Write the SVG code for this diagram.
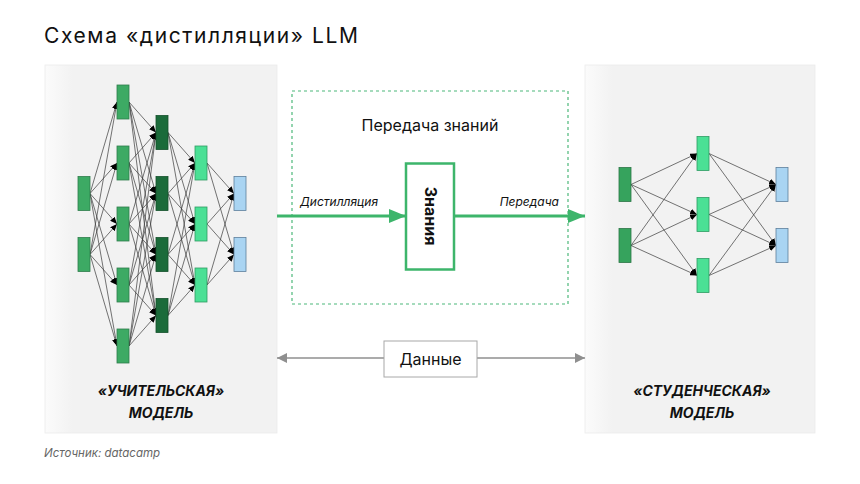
<svg xmlns="http://www.w3.org/2000/svg" width="860" height="484" viewBox="0 0 860 484">
<style>
text{font-family:Inter,"Noto Sans","Liberation Sans",sans-serif;fill:#111}
.n1{fill:#3daa64;stroke:#2f7d4b;stroke-width:0.8}
.n1s{fill:#36a35d;stroke:#2c7546;stroke-width:0.8}
.n2{fill:#1b6b3a;stroke:#14512c;stroke-width:0.8}
.n3{fill:#4be095;stroke:#2f9c63;stroke-width:0.8}
.n4{fill:#a9d4f2;stroke:#5e7f9c;stroke-width:0.8}
.c line{stroke:#3a3a3a;stroke-width:0.7;marker-end:url(#ah)}
.lbl{font-weight:700;font-style:italic;font-size:14px;text-anchor:middle}
</style>
<defs>
<marker id="ah" markerUnits="userSpaceOnUse" markerWidth="8" markerHeight="6" refX="7" refY="3" orient="auto"><path d="M0,0 L7,3 L0,6 z" fill="#000"/></marker>
<marker id="ga" markerUnits="userSpaceOnUse" markerWidth="18" markerHeight="14" refX="17" refY="7" orient="auto"><path d="M0,0 L17,7 L0,14 z" fill="#3db56b"/></marker>
<marker id="gr" markerUnits="userSpaceOnUse" markerWidth="11" markerHeight="10" refX="10" refY="5" orient="auto"><path d="M0,0 L10,5 L0,10 z" fill="#8f8f8f"/></marker>
<linearGradient id="pg" x1="0" y1="0" x2="1" y2="0"><stop offset="0" stop-color="#fbfbfb"/><stop offset="0.12" stop-color="#f2f2f2"/><stop offset="1" stop-color="#f2f2f2"/></linearGradient>
</defs>
<rect width="860" height="484" fill="#fff"/>
<text x="44" y="43" font-size="21" textLength="314">Схема «дистилляции» LLM</text>

<g id="teacher-panel"><rect x="45" y="65" width="232" height="368" fill="url(#pg)" stroke="#ebebeb" stroke-width="0.8"/></g>
<g id="student-panel"><rect x="585" y="65" width="230" height="368" fill="url(#pg)" stroke="#ebebeb" stroke-width="0.8"/></g>

<g id="transfer-box"><rect x="292" y="91" width="276" height="213" fill="#fff" stroke="#4db87a" stroke-width="1.2" stroke-dasharray="3 3"/>
<text x="430" y="131" font-size="16" text-anchor="middle">Передача знаний</text></g>

<g class="c" id="teacher-connectors">
<line x1="90" y1="193.5" x2="117" y2="102"/><line x1="90" y1="193.5" x2="117" y2="163"/><line x1="90" y1="193.5" x2="117" y2="224"/><line x1="90" y1="193.5" x2="117" y2="285"/><line x1="90" y1="193.5" x2="117" y2="346"/>
<line x1="90" y1="254.5" x2="117" y2="102"/><line x1="90" y1="254.5" x2="117" y2="163"/><line x1="90" y1="254.5" x2="117" y2="224"/><line x1="90" y1="254.5" x2="117" y2="285"/><line x1="90" y1="254.5" x2="117" y2="346"/>
<line x1="129" y1="102" x2="156" y2="132.5"/><line x1="129" y1="102" x2="156" y2="193.5"/><line x1="129" y1="102" x2="156" y2="254.5"/><line x1="129" y1="102" x2="156" y2="315.5"/>
<line x1="129" y1="163" x2="156" y2="132.5"/><line x1="129" y1="163" x2="156" y2="193.5"/><line x1="129" y1="163" x2="156" y2="254.5"/><line x1="129" y1="163" x2="156" y2="315.5"/>
<line x1="129" y1="224" x2="156" y2="132.5"/><line x1="129" y1="224" x2="156" y2="193.5"/><line x1="129" y1="224" x2="156" y2="254.5"/><line x1="129" y1="224" x2="156" y2="315.5"/>
<line x1="129" y1="285" x2="156" y2="132.5"/><line x1="129" y1="285" x2="156" y2="193.5"/><line x1="129" y1="285" x2="156" y2="254.5"/><line x1="129" y1="285" x2="156" y2="315.5"/>
<line x1="129" y1="346" x2="156" y2="132.5"/><line x1="129" y1="346" x2="156" y2="193.5"/><line x1="129" y1="346" x2="156" y2="254.5"/><line x1="129" y1="346" x2="156" y2="315.5"/>
<line x1="168" y1="132.5" x2="195" y2="163"/><line x1="168" y1="132.5" x2="195" y2="224"/><line x1="168" y1="132.5" x2="195" y2="285"/>
<line x1="168" y1="193.5" x2="195" y2="163"/><line x1="168" y1="193.5" x2="195" y2="224"/><line x1="168" y1="193.5" x2="195" y2="285"/>
<line x1="168" y1="254.5" x2="195" y2="163"/><line x1="168" y1="254.5" x2="195" y2="224"/><line x1="168" y1="254.5" x2="195" y2="285"/>
<line x1="168" y1="315.5" x2="195" y2="163"/><line x1="168" y1="315.5" x2="195" y2="224"/><line x1="168" y1="315.5" x2="195" y2="285"/>
<line x1="207" y1="163" x2="234" y2="193.5"/><line x1="207" y1="163" x2="234" y2="254.5"/>
<line x1="207" y1="224" x2="234" y2="193.5"/><line x1="207" y1="224" x2="234" y2="254.5"/>
<line x1="207" y1="285" x2="234" y2="193.5"/><line x1="207" y1="285" x2="234" y2="254.5"/>
</g>

<g class="c" id="student-connectors">
<line x1="631" y1="184.5" x2="697" y2="153.5"/><line x1="631" y1="184.5" x2="697" y2="214.5"/><line x1="631" y1="184.5" x2="697" y2="275.5"/>
<line x1="631" y1="245.5" x2="697" y2="153.5"/><line x1="631" y1="245.5" x2="697" y2="214.5"/><line x1="631" y1="245.5" x2="697" y2="275.5"/>
<line x1="709" y1="153.5" x2="776" y2="184.5"/><line x1="709" y1="153.5" x2="776" y2="245.5"/>
<line x1="709" y1="214.5" x2="776" y2="184.5"/><line x1="709" y1="214.5" x2="776" y2="245.5"/>
<line x1="709" y1="275.5" x2="776" y2="184.5"/><line x1="709" y1="275.5" x2="776" y2="245.5"/>
</g>

<g id="teacher-nodes">
<rect class="n1" x="78" y="176.5" width="12" height="34"/><rect class="n1" x="78" y="237.5" width="12" height="34"/>
<rect class="n1" x="117" y="85" width="12" height="34"/><rect class="n1" x="117" y="146" width="12" height="34"/><rect class="n1" x="117" y="207" width="12" height="34"/><rect class="n1" x="117" y="268" width="12" height="34"/><rect class="n1" x="117" y="329" width="12" height="34"/>
<rect class="n2" x="156" y="115.5" width="12" height="34"/><rect class="n2" x="156" y="176.5" width="12" height="34"/><rect class="n2" x="156" y="237.5" width="12" height="34"/><rect class="n2" x="156" y="298.5" width="12" height="34"/>
<rect class="n3" x="195" y="146" width="12" height="34"/><rect class="n3" x="195" y="207" width="12" height="34"/><rect class="n3" x="195" y="268" width="12" height="34"/>
<rect class="n4" x="234" y="176.5" width="12" height="34"/><rect class="n4" x="234" y="237.5" width="12" height="34"/>
</g>
<g id="teacher-label"><text class="lbl" x="161" y="396">«УЧИТЕЛЬСКАЯ»</text><text class="lbl" x="161" y="418">МОДЕЛЬ</text></g>

<g id="student-nodes">
<rect class="n1s" x="619" y="167.5" width="12" height="34"/><rect class="n1s" x="619" y="228.5" width="12" height="34"/>
<rect class="n3" x="697" y="136.5" width="12" height="34"/><rect class="n3" x="697" y="197.5" width="12" height="34"/><rect class="n3" x="697" y="258.5" width="12" height="34"/>
<rect class="n4" x="776" y="167.5" width="12" height="34"/><rect class="n4" x="776" y="228.5" width="12" height="34"/>
</g>
<g id="student-label"><text class="lbl" x="702" y="396">«СТУДЕНЧЕСКАЯ»</text><text class="lbl" x="702" y="418">МОДЕЛЬ</text></g>

<g id="flow-connectors">
<line x1="277" y1="216" x2="406" y2="216" stroke="#3db56b" stroke-width="3" marker-end="url(#ga)"/>
<line x1="454" y1="216" x2="585" y2="216" stroke="#3db56b" stroke-width="3" marker-end="url(#ga)"/>
<text x="300" y="206" font-size="12" font-style="italic">Дистилляция</text>
<text x="559" y="206" font-size="12" font-style="italic" text-anchor="end">Передача</text>
<line x1="384" y1="358" x2="277" y2="358" stroke="#8f8f8f" stroke-width="1.5" marker-end="url(#gr)"/>
<line x1="477" y1="358" x2="585" y2="358" stroke="#8f8f8f" stroke-width="1.5" marker-end="url(#gr)"/>
</g>

<g id="knowledge"><rect x="406" y="163.5" width="48" height="106" fill="#fff" stroke="#3db56b" stroke-width="2.5"/>
<text x="0" y="0" font-size="16" font-weight="700" text-anchor="middle" transform="translate(424.5,216) rotate(90)">Знания</text></g>

<g id="data"><rect x="384" y="341" width="93" height="36" fill="#fff" stroke="#a8a8a8" stroke-width="1"/>
<text x="430.5" y="364.5" font-size="16" text-anchor="middle">Данные</text></g>

<text x="44" y="457" font-size="11.5" font-style="italic" style="fill:#666">Источник: datacamp</text>
</svg>
